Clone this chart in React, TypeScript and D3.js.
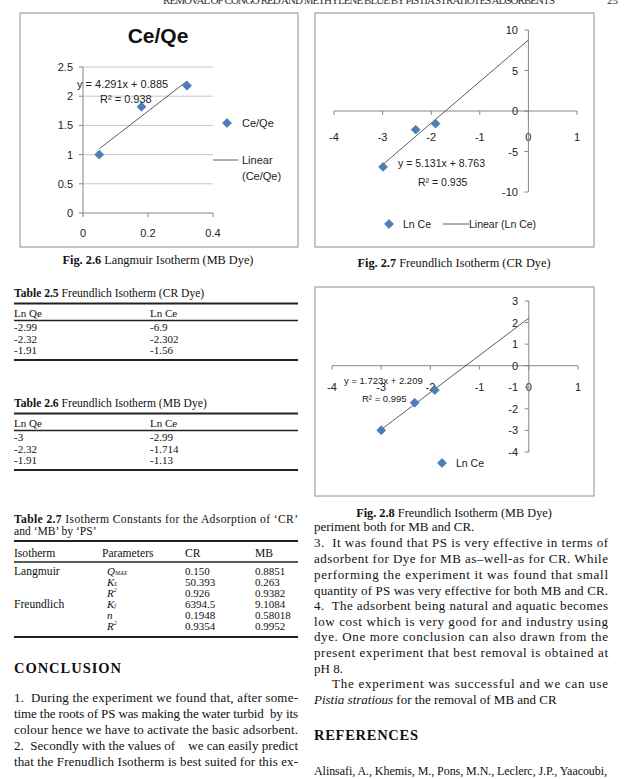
import React from 'react';
import * as d3 from 'd3';

// ---------- data ----------
const langQe = [0.05, 0.18, 0.32];
const langCeQe = [1.0, 1.82, 2.18];
const langSlope = 4.291;
const langIntercept = 0.885;
const langR2 = 0.938;
const langYTicks = [0, 0.5, 1, 1.5, 2, 2.5];
const langXTicks = [0, 0.2, 0.4];

const crLnQe = [-2.99, -2.32, -1.91];
const crLnCe = [-6.9, -2.302, -1.56];
const crSlope = 5.131;
const crIntercept = 8.763;
const crR2 = 0.935;
const crXTicks = [-4, -3, -2, -1, 0, 1];
const crYTicks = [-10, -5, 0, 5, 10];

const mbLnQe = [-3, -2.32, -1.91];
const mbLnCe = [-2.99, -1.714, -1.13];
const mbSlope = 1.723;
const mbIntercept = 2.209;
const mbR2 = 0.995;
const mbXTicks = [-4, -3, -2, -1, 0, 1];
const mbYTicks = [-4, -3, -2, -1, 0, 1, 2, 3];

const isothermNames = ['Langmuir', '', '', 'Freundlich', '', ''];
const paramNames = ['Q|MAX', 'K|L', 'R|2', 'K|f', 'n|', 'R|2'];
const crValues = ['0.150', '50.393', '0.926', '6394.5', '0.1948', '0.9354'];
const mbValues = ['0.8851', '0.263', '0.9382', '9.1084', '0.58018', '0.9952'];

const serif = "'Liberation Serif', 'Times New Roman', serif";
const sans = "'Liberation Sans', Arial, sans-serif";
const blue = '#4a7ebb';
const axisCol = '#868686';
const gridCol = '#c8c8c8';

const diamond = d3.symbol(d3.symbolSquare, 40)();

function Marker({ x, y }: { x: number; y: number }) {
  return <path d={diamond!} transform={`translate(${x},${y}) rotate(45)`} fill={blue} stroke="#3d6ca3" strokeWidth={0.6} />;
}

function Fig26() {
  const x = d3.scaleLinear([0, 0.4], [83, 213]);
  const y = d3.scaleLinear([0, 2.5], [213, 67]);
  const x0 = langQe[0], x1 = langQe[langQe.length - 1];
  const line = d3.line<number>().x(d => x(d)).y(d => y(langSlope * d + langIntercept));
  return (
    <g>
      <rect x={20} y={13} width={278} height={234} fill="#fff" stroke="#8e8e8e" strokeWidth={1} />
      <text x={158} y={43} textAnchor="middle" fontFamily={sans} fontWeight="bold" fontSize={21} fill="#111">Ce/Qe</text>
      {langYTicks.map(t => (
        <g key={t}>
          <line x1={x(0)} x2={x(0.4)} y1={y(t)} y2={y(t)} stroke={t === 0 ? axisCol : gridCol} strokeWidth={1} />
          <line x1={x(0) - 4} x2={x(0)} y1={y(t)} y2={y(t)} stroke={axisCol} />
          <text x={73} y={y(t)} textAnchor="end" dominantBaseline="central" fontFamily={sans} fontSize={11} fill="#222">{String(t)}</text>
        </g>
      ))}
      <line x1={x(0)} x2={x(0)} y1={y(2.5)} y2={y(0)} stroke={axisCol} />
      {langXTicks.map(t => (
        <g key={t}>
          <line x1={x(t)} x2={x(t)} y1={y(0)} y2={y(0) + 4} stroke={axisCol} />
          <text x={x(t)} y={233} textAnchor="middle" dominantBaseline="central" fontFamily={sans} fontSize={11} fill="#222">{String(t)}</text>
        </g>
      ))}
      <path d={line([x0, x1])!} stroke="#333" strokeWidth={0.8} fill="none" />
      {langQe.map((v, i) => <Marker key={i} x={x(v)} y={y(langCeQe[i])} />)}
      <text x={77} y={84} dominantBaseline="central" fontFamily={sans} fontSize={11} fill="#222">{`y = ${langSlope}x + ${langIntercept}`}</text>
      <text x={100} y={99} dominantBaseline="central" fontFamily={sans} fontSize={11} fill="#222">R² = {langR2}</text>
      <Marker x={227} y={123} />
      <text x={242} y={123} dominantBaseline="central" fontFamily={sans} fontSize={11} fill="#222">Ce/Qe</text>
      <line x1={213} x2={238} y1={160} y2={160} stroke="#333" strokeWidth={0.8} />
      <text x={242} y={160} dominantBaseline="central" fontFamily={sans} fontSize={11} fill="#222">Linear</text>
      <text x={242} y={176} dominantBaseline="central" fontFamily={sans} fontSize={11} fill="#222">(Ce/Qe)</text>
    </g>
  );
}

function Fig27() {
  const x = d3.scaleLinear([-4, 1], [334, 577]);
  const y = d3.scaleLinear([-10, 10], [192, 30]);
  const line = d3.line<number>().x(d => x(d)).y(d => y(crSlope * d + crIntercept));
  return (
    <g>
      <rect x={315} y={13} width={279} height={234} fill="#fff" stroke="#8e8e8e" strokeWidth={1} />
      <line x1={x(-4)} x2={x(1)} y1={y(0)} y2={y(0)} stroke={axisCol} />
      {crXTicks.map(t => (
        <g key={t}>
          <line x1={x(t)} x2={x(t)} y1={y(0)} y2={y(0) + 4} stroke={axisCol} />
          <text x={x(t)} y={137} textAnchor="middle" dominantBaseline="central" fontFamily={sans} fontSize={11} fill="#222">{String(t)}</text>
        </g>
      ))}
      <line x1={x(0)} x2={x(0)} y1={y(10)} y2={y(-10)} stroke={axisCol} />
      {crYTicks.map(t => (
        <g key={t}>
          <line x1={x(0) - 4} x2={x(0)} y1={y(t)} y2={y(t)} stroke={axisCol} />
          <text x={518} y={y(t)} textAnchor="end" dominantBaseline="central" fontFamily={sans} fontSize={11} fill="#222">{String(t)}</text>
        </g>
      ))}
      <path d={line([crLnQe[0], 0])!} stroke="#333" strokeWidth={0.8} fill="none" />
      {crLnQe.map((v, i) => <Marker key={i} x={x(v)} y={y(crLnCe[i])} />)}
      <text x={398} y={163} dominantBaseline="central" fontFamily={sans} fontSize={10.5} fill="#222">{`y = ${crSlope}x + ${crIntercept}`}</text>
      <text x={418} y={182} dominantBaseline="central" fontFamily={sans} fontSize={10.5} fill="#222">R² = {crR2}</text>
      <Marker x={389} y={224} />
      <text x={403} y={224} dominantBaseline="central" fontFamily={sans} fontSize={10.5} fill="#222">Ln Ce</text>
      <line x1={443} x2={469} y1={224} y2={224} stroke="#333" strokeWidth={0.8} />
      <text x={469} y={224} dominantBaseline="central" fontFamily={sans} fontSize={10.5} fill="#222">Linear (Ln Ce)</text>
    </g>
  );
}

function Fig28() {
  const x = d3.scaleLinear([-4, 1], [332, 578]);
  const y = d3.scaleLinear([-4, 3], [452, 301]);
  const line = d3.line<number>().x(d => x(d)).y(d => y(mbSlope * d + mbIntercept));
  return (
    <g>
      <rect x={315} y={287} width={279} height={209} fill="#fff" stroke="#8e8e8e" strokeWidth={1} />
      <line x1={x(-4)} x2={x(1)} y1={y(0)} y2={y(0)} stroke={axisCol} />
      {mbXTicks.map(t => (
        <g key={t}>
          <line x1={x(t)} x2={x(t)} y1={y(0)} y2={y(0) + 4} stroke={axisCol} />
          <text x={x(t)} y={387} textAnchor="middle" dominantBaseline="central" fontFamily={sans} fontSize={11} fill="#222">{String(t)}</text>
        </g>
      ))}
      <line x1={x(0)} x2={x(0)} y1={y(3)} y2={y(-4)} stroke={axisCol} />
      {mbYTicks.map(t => (
        <g key={t}>
          <line x1={x(0) - 4} x2={x(0)} y1={y(t)} y2={y(t)} stroke={axisCol} />
          <text x={518} y={y(t)} textAnchor="end" dominantBaseline="central" fontFamily={sans} fontSize={11} fill="#222">{String(t)}</text>
        </g>
      ))}
      <path d={line([mbLnQe[0], 0])!} stroke="#333" strokeWidth={0.8} fill="none" />
      {mbLnQe.map((v, i) => <Marker key={i} x={x(v)} y={y(mbLnCe[i])} />)}
      <text x={344} y={380} dominantBaseline="central" fontFamily={sans} fontSize={9.5} fill="#222">{`y = ${mbSlope}x + ${mbIntercept}`}</text>
      <text x={362} y={398} dominantBaseline="central" fontFamily={sans} fontSize={9.5} fill="#222">R² = {mbR2}</text>
      <Marker x={442} y={463} />
      <text x={456} y={463} dominantBaseline="central" fontFamily={sans} fontSize={10.5} fill="#222">Ln Ce</text>
    </g>
  );
}

function Caption({ x, y, label, rest }: { x: number; y: number; label: string; rest: string }) {
  return (
    <text x={x} y={y} textAnchor="middle" dominantBaseline="central" fontFamily={serif} fontSize={12.3} fill="#111">
      <tspan fontWeight="bold">{label}</tspan> {rest}
    </text>
  );
}

function Rule({ y, w }: { y: number; w: number }) {
  return <line x1={14} x2={298} y1={y} y2={y} stroke="#222" strokeWidth={w} />;
}

const TS = 11;

const T = ({ x, y, children, len, bold, italic, size = TS }: any) => (
  <text x={x} y={y} dominantBaseline="central" fontFamily={serif} fontSize={size} fill="#111"
    fontWeight={bold ? 'bold' : 'normal'} fontStyle={italic ? 'italic' : 'normal'}
    textLength={len} lengthAdjust={len ? 'spacing' : undefined} style={{ whiteSpace: 'pre' }}>{children}</text>
);

function SmallTable({ top, title, rest, qe, ce }: { top: number; title: string; rest: string; qe: number[]; ce: number[] }) {
  return (
    <g>
      <text x={14} y={top} dominantBaseline="central" fontFamily={serif} fontSize={11.6} fill="#111">
        <tspan fontWeight="bold">{title}</tspan> {rest}
      </text>
      <Rule y={top + 10.5} w={2} />
      <T x={14} y={top + 20}>Ln Qe</T>
      <T x={150} y={top + 20}>Ln Ce</T>
      <Rule y={top + 27.5} w={1.4} />
      {qe.map((v, i) => (
        <g key={i}>
          <T x={14} y={top + 34 + i * 11.5}>{String(v)}</T>
          <T x={150} y={top + 34 + i * 11.5}>{String(ce[i])}</T>
        </g>
      ))}
      <Rule y={top + 67} w={2} />
    </g>
  );
}

function Param({ x, y, p }: { x: number; y: number; p: string }) {
  const [main, sub] = p.split('|');
  const isSup = sub === '2';
  return (
    <text x={x} y={y} dominantBaseline="central" fontFamily={serif} fontSize={TS} fill="#111" fontStyle="italic">
      {main}
      {sub ? <tspan fontSize={6} dy={isSup ? -3 : 2}>{sub}</tspan> : null}
    </text>
  );
}

function BigTable() {
  const rowY = [571, 582, 593, 604, 615, 626];
  return (
    <g>
      <text x={14} y={519} dominantBaseline="central" fontFamily={serif} fontSize={11.6} fill="#111" textLength={284} lengthAdjust="spacing">
        <tspan fontWeight="bold">Table 2.7</tspan> Isotherm Constants for the Adsorption of ‘CR’
      </text>
      <T x={14} y={531} size={11.6}>and ‘MB’ by ‘PS’</T>
      <Rule y={541} w={2} />
      <T x={14} y={553} size={11.6}>Isotherm</T>
      <T x={102} y={553} size={11.6}>Parameters</T>
      <T x={185} y={553} size={11.6}>CR</T>
      <T x={255} y={553} size={11.6}>MB</T>
      <Rule y={562} w={1.6} />
      {rowY.map((y, i) => (
        <g key={i}>
          {isothermNames[i] ? <T x={14} y={y} size={11.6}>{isothermNames[i]}</T> : null}
          <Param x={107} y={y} p={paramNames[i]} />
          <T x={185} y={y}>{crValues[i]}</T>
          <T x={255} y={y}>{mbValues[i]}</T>
        </g>
      ))}
      <Rule y={637} w={2} />
    </g>
  );
}

const B = ({ x, y, len, children, italic }: any) => (
  <text x={x} y={y + 4} fontFamily={serif} fontSize={13} fill="#111" fontStyle={italic ? 'italic' : 'normal'}
    textLength={len} lengthAdjust={len ? 'spacing' : undefined} style={{ whiteSpace: 'pre' }}>{children}</text>
);

function Body() {
  return (
    <g>
      <text x={14} y={673} fontFamily={serif} fontSize={14.5} fontWeight="bold" fill="#111" textLength={107} lengthAdjust="spacing">CONCLUSION</text>
      <B x={14} y={698} len={284}>1.  During the experiment we found that, after some-</B>
      <B x={14} y={714} len={284}>time the roots of PS was making the water turbid  by its</B>
      <B x={14} y={730} len={284}>colour hence we have to activate the basic adsorbent.</B>
      <B x={14} y={746} len={284}>2.  Secondly with the values of    we can easily predict</B>
      <B x={14} y={762} len={284}>that the Frenudlich Isotherm is best suited for this ex-</B>

      <B x={314} y={527}>periment both for MB and CR.</B>
      <B x={314} y={543} len={294}>3.  It was found that PS is very effective in terms of</B>
      <B x={314} y={559} len={294}>adsorbent for Dye for MB as–well-as for CR. While</B>
      <B x={314} y={575} len={294}>performing the experiment it was found that small</B>
      <B x={314} y={591} len={294}>quantity of PS was very effective for both MB and CR.</B>
      <B x={314} y={606} len={294}>4.  The adsorbent being natural and aquatic becomes</B>
      <B x={314} y={622} len={294}>low cost which is very good for and industry using</B>
      <B x={314} y={637} len={294}>dye. One more conclusion can also drawn from the</B>
      <B x={314} y={653} len={294}>present experiment that best removal is obtained at</B>
      <B x={314} y={669}>pH 8.</B>
      <B x={332} y={684} len={276}>The experiment was successful and we can use</B>
      <text x={314} y={704} fontFamily={serif} fontSize={13} fill="#111">
        <tspan fontStyle="italic">Pistia stratious</tspan> for the removal of MB and CR
      </text>
      <text x={314} y={740} fontFamily={serif} fontSize={14.5} fontWeight="bold" fill="#111" textLength={104} lengthAdjust="spacing">REFERENCES</text>
      <text x={314} y={775} fontFamily={serif} fontSize={12} fill="#111" textLength={293} lengthAdjust="spacing">Alinsafi, A., Khemis, M., Pons, M.N., Leclerc, J.P., Yaacoubi,</text>
    </g>
  );
}

export default function App() {
  return (
    <div style={{ position: 'absolute', left: 0, top: 0 }}>
      <svg width={624} height={779} viewBox="0 0 624 779" style={{ display: 'block', background: '#fff' }}>
        <rect width={624} height={779} fill="#fff" />
        <text x={163} y={3.5} fontFamily={serif} fontSize={11} fill="#333" textLength={392} lengthAdjust="spacing">REMOVAL OF CONGO RED AND METHYLENE BLUE BY PISTIA STRATIOTES ADSORBENTS</text>
        <text x={607} y={3.5} fontFamily={serif} fontSize={11} fill="#333">25</text>
        <Fig26 />
        <Caption x={158} y={260} label="Fig. 2.6" rest="Langmuir Isotherm (MB Dye)" />
        <Fig27 />
        <Caption x={454} y={263} label="Fig. 2.7" rest="Freundlich Isotherm (CR Dye)" />
        <Fig28 />
        <Caption x={454} y={513} label="Fig. 2.8" rest="Freundlich Isotherm (MB Dye)" />
        <SmallTable top={293} title="Table 2.5" rest="Freundlich Isotherm (CR Dye)" qe={crLnQe} ce={crLnCe} />
        <SmallTable top={403} title="Table 2.6" rest="Freundlich Isotherm (MB Dye)" qe={mbLnQe} ce={mbLnCe} />
        <BigTable />
        <Body />
      </svg>
    </div>
  );
}
